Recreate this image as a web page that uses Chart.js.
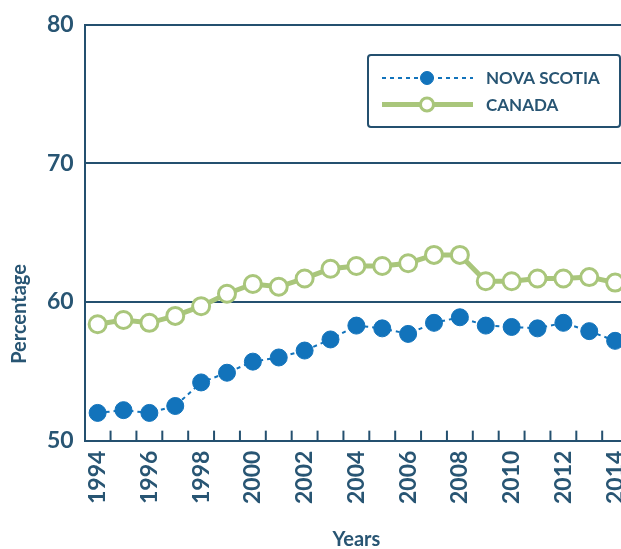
<!DOCTYPE html>
<html lang="en">
<head>
    <meta charset="UTF-8">
    <title>Nova Scotia vs Canada</title>
    <script src="https://cdn.jsdelivr.net/npm/chart.js"></script>
    <style>
        html, body { margin: 0; padding: 0; background: #fff; overflow: hidden; }
        #wrap { width: 645px; height: 549px; }
    </style>
</head>
<body>
    <div id="wrap"><canvas id="chart" width="645" height="549"></canvas></div>

    <script>
// chart data
const years = ["1994", "1995", "1996", "1997", "1998", "1999", "2000", "2001", "2002", "2003", "2004",
               "2005", "2006", "2007", "2008", "2009", "2010", "2011", "2012", "2013", "2014"];
const novaScotia = [52.0, 52.2, 52.0, 52.5, 54.2, 54.9, 55.7, 56.0, 56.5, 57.3, 58.3,
                    58.1, 57.7, 58.5, 58.9, 58.3, 58.2, 58.1, 58.5, 57.9, 57.2];
const canada = [58.4, 58.7, 58.5, 59.0, 59.7, 60.6, 61.3, 61.1, 61.7, 62.4, 62.6,
                62.6, 62.8, 63.4, 63.4, 61.5, 61.5, 61.7, 61.7, 61.8, 61.4];
const yTicks = [50, 60, 70, 80];

const navy = '#24506f';
const textColor = '#285573';
const blue = '#1273bb';
const green = '#a9c67b';

// small tick marks pointing into the plot, between the categories
const innerTicks = {
  id: 'innerTicks',
  afterDatasetsDraw(chart) {
    const ctx = chart.ctx;
    const x = chart.scales.x;
    const bottom = chart.chartArea.bottom;
    ctx.save();
    ctx.strokeStyle = navy;
    ctx.lineWidth = 2;
    for (let i = 1; i < years.length; i++) {
      const px = (x.getPixelForValue(i - 1) + x.getPixelForValue(i)) / 2;
      ctx.beginPath();
      ctx.moveTo(px, bottom);
      ctx.lineTo(px, bottom - 10);
      ctx.stroke();
    }
    ctx.restore();
  }
};

// y axis title sits lower than the axis middle, so it is drawn by hand
const yTitle = {
  id: 'yTitle',
  afterDraw(chart) {
    const ctx = chart.ctx;
    ctx.save();
    ctx.translate(20, 314);
    ctx.rotate(-Math.PI / 2);
    ctx.fillStyle = textColor;
    ctx.font = 'bold 20px Lato';
    ctx.textAlign = 'center';
    ctx.textBaseline = 'middle';
    ctx.fillText('Percentage', 0, 0);
    ctx.restore();
  }
};

// boxed legend inside the plot area
const boxLegend = {
  id: 'boxLegend',
  afterDraw(chart) {
    const ctx = chart.ctx;
    const left = 368, top = 55, w = 252, h = 72;
    ctx.save();
    ctx.strokeStyle = navy;
    ctx.lineWidth = 2;
    ctx.fillStyle = '#fff';
    ctx.beginPath();
    ctx.roundRect(left, top, w, h, 3);
    ctx.fill();
    ctx.stroke();

    chart.data.datasets.forEach((ds, i) => {
      const y = 78 + i * 26.5;
      ctx.strokeStyle = ds.borderColor;
      ctx.lineWidth = ds.borderWidth;
      ctx.setLineDash(ds.borderDash || []);
      ctx.beginPath();
      ctx.moveTo(382, y);
      ctx.lineTo(473, y);
      ctx.stroke();
      ctx.setLineDash([]);
      ctx.beginPath();
      ctx.arc(427, y, 6.5, 0, Math.PI * 2);
      ctx.fillStyle = ds.pointBackgroundColor;
      ctx.fill();
      ctx.lineWidth = ds.pointBorderWidth;
      ctx.strokeStyle = ds.pointBorderColor;
      ctx.stroke();

      ctx.fillStyle = textColor;
      ctx.font = 'bold 17px Lato';
      ctx.textBaseline = 'middle';
      ctx.fillText(ds.label, 486, y + 1);
    });
    ctx.restore();
  }
};

new Chart(document.getElementById('chart'), {
  type: 'line',
  data: {
    labels: years,
    datasets: [
      {
        label: 'NOVA SCOTIA',
        data: novaScotia,
        borderColor: blue,
        borderWidth: 2,
        borderDash: [4, 4],
        pointRadius: 8.5,
        pointHoverRadius: 8.5,
        pointBackgroundColor: blue,
        pointBorderColor: blue,
        pointBorderWidth: 1
      },
      {
        label: 'CANADA',
        data: canada,
        borderColor: green,
        borderWidth: 5,
        pointRadius: 8.5,
        pointHoverRadius: 8.5,
        pointBackgroundColor: '#fff',
        pointBorderColor: green,
        pointBorderWidth: 3
      }
    ]
  },
  options: {
    responsive: false,
    animation: false,
    layout: { padding: { left: 36, right: 7, top: 4, bottom: 0 } },
    plugins: {
      legend: { display: false },
      tooltip: { enabled: false }
    },
    scales: {
      x: {
        offset: true,
        grid: { display: false },
        border: { display: true, color: navy, width: 2 },
        ticks: {
          autoSkip: false,
          minRotation: 90,
          maxRotation: 90,
          padding: 2,
          color: textColor,
          font: { family: 'Lato', size: 23, weight: 'bold' },
          callback: function (value, index) {
            return index % 2 === 0 ? this.getLabelForValue(value) : '';
          }
        },
        title: {
          display: true,
          text: 'Years',
          color: textColor,
          font: { family: 'Lato', size: 20, weight: 'bold' },
          padding: { top: 22, bottom: -3 }
        }
      },
      y: {
        min: 50,
        max: 80,
        afterBuildTicks: axis => { axis.ticks = yTicks.map(v => ({ value: v })); },
        grid: { color: navy, lineWidth: 2, tickLength: 0 },
        border: { display: true, color: navy, width: 2 },
        ticks: {
          padding: 11,
          color: textColor,
          font: { family: 'Lato', size: 23, weight: 'bold' }
        }
      }
    }
  },
  plugins: [innerTicks, yTitle, boxLegend]
});
    </script>
</body>
</html>
